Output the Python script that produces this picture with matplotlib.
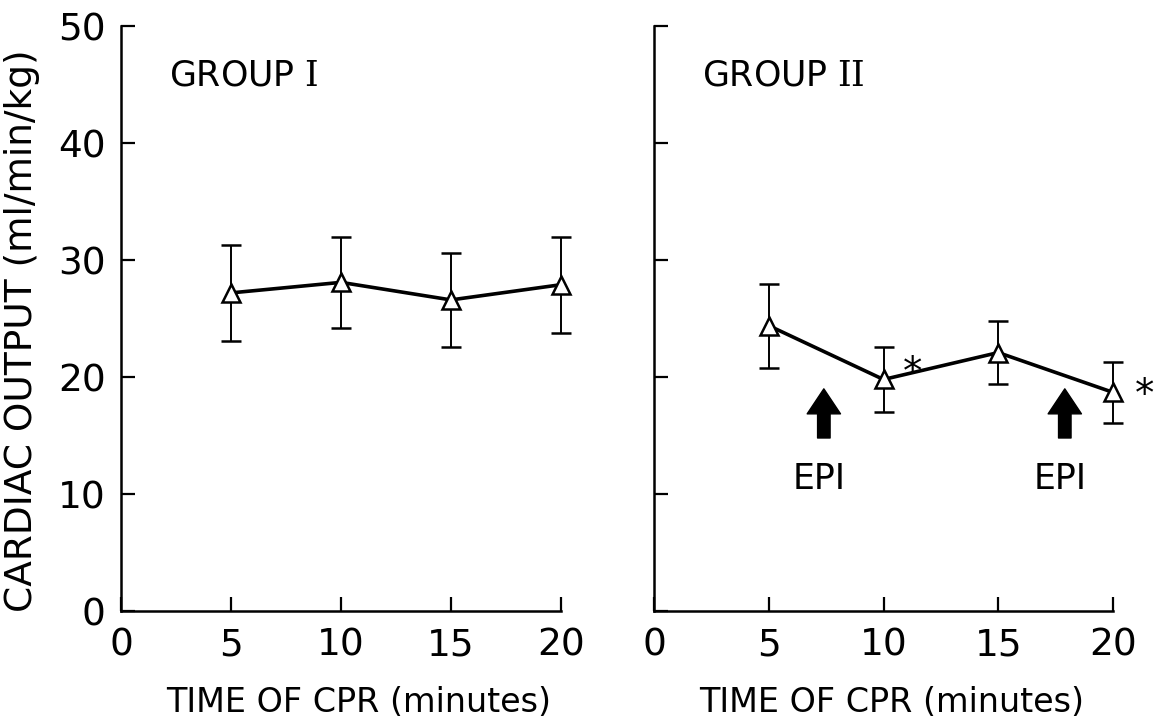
import numpy as np
import matplotlib
matplotlib.use("Agg")
import matplotlib.pyplot as plt

plt.rcParams["font.family"] = ["DejaVu Sans"]
plt.rcParams["mathtext.fontset"] = "dejavuserif"

# data
time_min = [5, 10, 15, 20]
group1_mean = [27.2, 28.1, 26.6, 27.9]
group1_sd = [4.1, 3.9, 4.0, 4.1]
group2_mean = [24.4, 19.8, 22.1, 18.7]
group2_sd = [3.6, 2.8, 2.7, 2.6]
group2_signif = [False, True, False, True]
epi_times = [7.4, 17.9]

x_ticks = [0, 5, 10, 15, 20]
y_ticks = [0, 10, 20, 30, 40, 50]

# offsets (points) of the significance stars next to their markers
star_offsets = [None, (14, 5), None, (16, -2)]

fig = plt.figure(figsize=(11.59, 7.25), dpi=100)
ax1 = fig.add_axes([0.1044, 0.157, 0.3796, 0.807])
ax2 = fig.add_axes([0.5643, 0.157, 0.3960, 0.807])


def style_axis(ax, show_ylabels, label_x):
    ax.set_xlim(0, 20)
    ax.set_ylim(0, 50)
    for s in ["top", "right"]:
        ax.spines[s].set_visible(False)
    for s in ["left", "bottom"]:
        ax.spines[s].set_linewidth(1.8)
    ax.set_xticks(x_ticks)
    ax.set_yticks(y_ticks)
    ax.tick_params(direction="in", length=10, width=1.6, labelsize=27)
    ax.tick_params(axis="x", pad=12)
    ax.tick_params(axis="y", pad=11)
    if not show_ylabels:
        ax.set_yticklabels([])
    ax.set_xlabel("TIME OF CPR (minutes)", fontsize=24)
    ax.xaxis.set_label_coords(label_x, -0.128)


def draw_series(ax, mean, sd):
    ax.errorbar(time_min, mean, yerr=sd, color="black", lw=2.6, elinewidth=1.4,
                capsize=7, capthick=1.6, marker="^", markersize=13,
                markerfacecolor="white", markeredgecolor="black",
                markeredgewidth=1.8, clip_on=False, zorder=3)


style_axis(ax1, True, 0.54)
style_axis(ax2, False, 0.518)

draw_series(ax1, group1_mean, group1_sd)
draw_series(ax2, group2_mean, group2_sd)

ax1.text(0.11, 0.915, r"GROUP $\mathrm{I}$", transform=ax1.transAxes,
         fontsize=25, va="center", ha="left")
ax2.text(0.105, 0.915, r"GROUP $\mathrm{II}$", transform=ax2.transAxes,
         fontsize=25, va="center", ha="left")

for t, m, sig, off in zip(time_min, group2_mean, group2_signif, star_offsets):
    if sig:
        ax2.annotate("*", xy=(t, m), xytext=off, textcoords="offset points",
                     fontsize=28, ha="left", va="center", annotation_clip=False)

for t in epi_times:
    ax2.annotate("", xy=(t, 19.0), xytext=(t, 14.8),
                 arrowprops=dict(arrowstyle="simple,head_width=1.2,head_length=0.9,tail_width=0.45",
                                 mutation_scale=20, color="black", shrinkA=0, shrinkB=0))
    ax2.text(t - 0.2, 11.3, "EPI", fontsize=25, ha="center", va="center")

fig.text(22 / 1159, 1 - 331 / 725, "CARDIAC OUTPUT (ml/min/kg)", rotation=90,
         fontsize=27, ha="center", va="center")

fig.savefig("out.png", dpi=100)
